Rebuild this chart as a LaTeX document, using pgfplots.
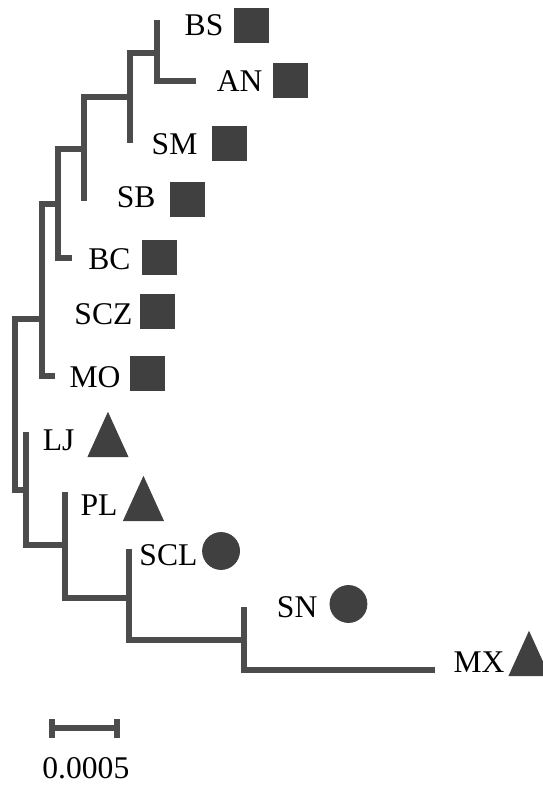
\documentclass[border=0pt]{standalone}
\usepackage{pgfplots}
\pgfplotsset{compat=1.18}
\usepackage{pgfplotstable}
\usepackage{fontspec}
\setmainfont{Liberation Serif}
\definecolor{treegray}{HTML}{4C4C4C}
\definecolor{markgray}{HTML}{404040}

% marker positions (x in units of 0.0001 substitutions from root, y = tip position)
\pgfplotstableread{
x y
18.15 25
21.15 80
16.46 143.5
13.23 199
11.12 257.5
10.96 311.5
10.15 373.5
}\squares
\pgfplotstableread{
x y
15.85 551
25.65 604
}\circles
\pgfplotstableread{
x y
7.15 442
9.88 506
39.54 661
}\triangles
\pgfplotstableread{
x y label
16.23 36 BS
19.23 92 AN
14.23 155 SM
11.0 208 SB
9.08 270 BC
9.23 325 SCZ
8.31 387 MO
4.77 450 LJ
8.08 515 PL
14.23 565 SCL
23.46 617 SN
37.85 672 MX
}\labels
\pgfplotstableread{
x y label
5.45 778 0.0005
}\scalelabel

\begin{document}
\begin{tikzpicture}
\begin{axis}[
  name=ax,
  hide axis,
  clip=false,
  x=6.5pt, y=0.5pt,
  y dir=reverse,
  xmin=-1.154, xmax=40.615,
  ymin=0, ymax=785,
  every axis plot/.append style={line width=2.6pt, color=treegray, line cap=rect, line join=miter},
]
% tree branches
\addplot[mark=none] coordinates {(2.08,319) (0,319) (0,490) (0.85,490)};
\addplot[mark=none] coordinates {(3.31,204) (2.08,204) (2.08,376) (2.85,376)};
\addplot[mark=none] coordinates {(5.31,149) (3.31,149) (3.31,258) (4.15,258)};
\addplot[mark=none] coordinates {(8.85,97) (5.31,97) (5.31,198)};
\addplot[mark=none] coordinates {(10.92,53) (8.85,53) (8.85,140)};
\addplot[mark=none] coordinates {(10.92,23) (10.92,81) (13.69,81)};
\addplot[mark=none] coordinates {(0.85,435) (0.85,545) (3.85,545)};
\addplot[mark=none] coordinates {(3.85,495) (3.85,598) (8.77,598)};
\addplot[mark=none] coordinates {(8.77,552) (8.77,640) (17.62,640)};
\addplot[mark=none] coordinates {(17.62,610) (17.62,670) (32.08,670)};
% scale bar
\addplot[mark=none, line cap=butt] coordinates {(2.85,728) (7.85,728)};
\addplot[mark=none, line cap=butt] coordinates {(2.85,719) (2.85,738)};
\addplot[mark=none, line cap=butt] coordinates {(7.85,719) (7.85,738)};
% markers
\addplot[only marks, mark=square*, mark size=8.5pt, mark options={fill=markgray, draw=markgray, line width=0.4pt}] table {\squares};
\addplot[only marks, mark=*, mark size=9.25pt, mark options={fill=markgray, draw=markgray, line width=0.4pt}] table {\circles};
\addplot[only marks, mark=triangle*, mark size=11.5pt, mark options={fill=markgray, draw=markgray, line width=0.4pt, yscale=1.27}] table {\triangles};
% labels
\addplot[draw=none, mark=none, nodes near coords, point meta=explicit symbolic,
  nodes near coords style={anchor=base east, inner sep=0pt, text=black, font=\fontsize{15.8}{18}\selectfont}]
  table[meta=label] {\labels};
\addplot[draw=none, mark=none, nodes near coords, point meta=explicit symbolic,
  nodes near coords style={anchor=base, inner sep=0pt, text=black, font=\fontsize{15.8}{18}\selectfont}]
  table[meta=label] {\scalelabel};
\end{axis}
\pgfresetboundingbox
\useasboundingbox (ax.south west) rectangle (ax.north east);
\end{tikzpicture}
\end{document}
